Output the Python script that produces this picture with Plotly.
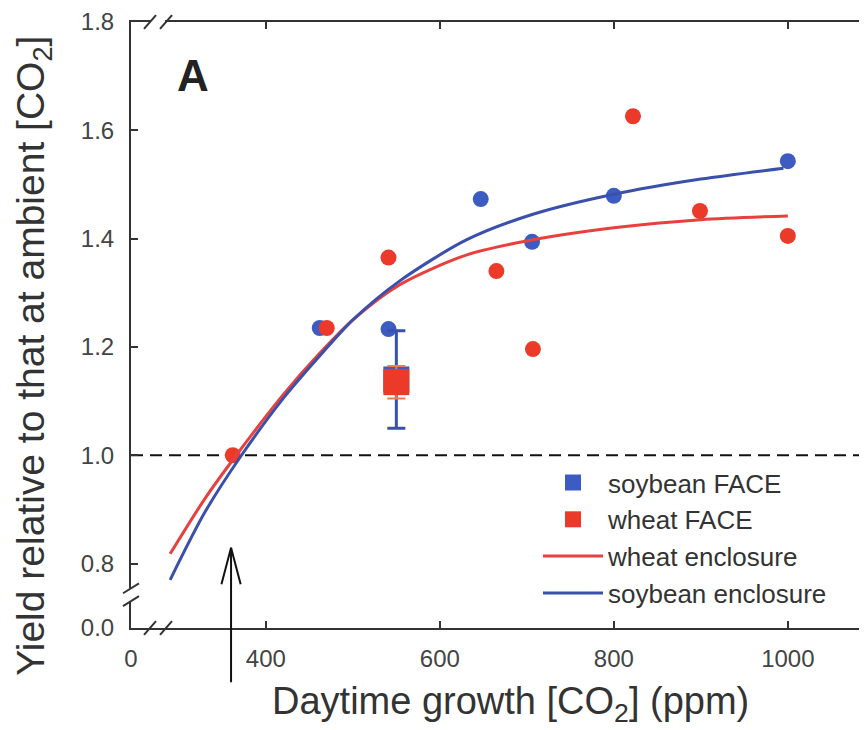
import plotly.graph_objects as go

# ---------------- data ----------------
# enclosure fits
soy_curve_x = [290, 330, 372, 420, 460, 500, 554, 631, 707, 800, 900, 995]
soy_curve_y = [0.770, 0.895, 1.000, 1.105, 1.180, 1.250, 1.322, 1.398, 1.445, 1.482, 1.510, 1.530]
wheat_curve_x = [290, 330, 366, 420, 460, 500, 554, 631, 707, 800, 900, 1000]
wheat_curve_y = [0.818, 0.920, 1.000, 1.112, 1.185, 1.250, 1.315, 1.370, 1.398, 1.420, 1.435, 1.442]

# enclosure observations
soy_x = [462, 541, 647, 706, 800, 1000]
soy_y = [1.235, 1.233, 1.473, 1.394, 1.479, 1.543]
wheat_x = [362, 470, 541, 665, 707, 822, 899, 1000]
wheat_y = [1.000, 1.235, 1.365, 1.340, 1.196, 1.626, 1.451, 1.405]
soy_open_x = [960]
soy_open_y = [1.039]

# FACE means
face_x = [550]
soy_face_y = [1.14]
soy_face_err = [0.09]
wheat_face_y = [1.135]
wheat_face_err = [0.03]

ambient_co2 = 360
reference_ratio = 1.0

x_axis_floor = 245      # shown as "0" (broken axis)
x_axis_ceiling = 1091
y_axis_floor = 0.681    # shown as "0.0" (broken axis)
y_axis_ceiling = 1.8
x_tick_vals = [x_axis_floor, 400, 600, 800, 1000]
x_tick_text = ["0", "400", "600", "800", "1000"]
y_tick_vals = [y_axis_floor, 0.8, 1.0, 1.2, 1.4, 1.6, 1.8]
y_tick_text = ["0.0", "0.8", "1.0", "1.2", "1.4", "1.6", "1.8"]

# ---------------- style ----------------
BLUE = "#3d5cc2"
RED = "#ec3a2a"
BLUE_LINE = "#3a50aa"
RED_LINE = "#e8403e"
INK = "#333333"
FONT = "Liberation Sans, Arial, sans-serif"

OFF = 8                       # page body margin
W, H = 859, 722
PL, PT, PB = 131, 18, 628     # plot edges in page pixels
ML, MT = PL - OFF, PT - OFF
MB = H - (PB - OFF)
MR = 0
PW, PH = W - ML - MR, H - MT - MB


def px(x):
    return (x - PL) / PW


def py(y):
    return (PB - y) / PH


fig = go.Figure()

fig.add_trace(go.Scatter(x=soy_x, y=soy_y, mode="markers", showlegend=False,
                         marker=dict(color=BLUE, size=16, line=dict(width=0))))
fig.add_trace(go.Scatter(x=soy_open_x, y=soy_open_y, mode="markers", showlegend=False,
                         marker=dict(color="white", size=13, symbol="circle-open",
                                     line=dict(color="#5a6aa8", width=2))))
fig.add_trace(go.Scatter(x=wheat_x, y=wheat_y, mode="markers", showlegend=False,
                         marker=dict(color=RED, size=16, line=dict(width=0))))

fig.add_trace(go.Scatter(x=face_x, y=soy_face_y, mode="markers", name="soybean FACE",
                         marker=dict(color=BLUE, size=26, symbol="square", line=dict(width=0)),
                         error_y=dict(type="data", array=soy_face_err, color=BLUE_LINE,
                                      thickness=3, width=9)))
fig.add_trace(go.Scatter(x=face_x, y=wheat_face_y, mode="markers", name="wheat FACE",
                         marker=dict(color=RED, size=26, symbol="square", line=dict(width=0)),
                         error_y=dict(type="data", array=wheat_face_err, color="#f07a50",
                                      thickness=2, width=9)))

fig.add_trace(go.Scatter(x=wheat_curve_x, y=wheat_curve_y, mode="lines", name="wheat enclosure",
                         line=dict(color=RED_LINE, width=3, shape="spline", smoothing=0.8)))
fig.add_trace(go.Scatter(x=soy_curve_x, y=soy_curve_y, mode="lines", name="soybean enclosure",
                         line=dict(color=BLUE_LINE, width=3, shape="spline", smoothing=0.8)))

fig.add_hline(y=reference_ratio, layer="below",
              line=dict(color="#111111", width=2, dash="12px,7px"))

# broken-axis decorations
shapes = []
shapes.append(dict(type="rect", xref="paper", yref="paper", layer="above",
                   x0=px(151), x1=px(165), y0=py(633), y1=py(623),
                   fillcolor="white", line=dict(width=0)))
shapes.append(dict(type="rect", xref="paper", yref="paper", layer="above",
                   x0=px(151), x1=px(165), y0=py(23), y1=py(13),
                   fillcolor="white", line=dict(width=0)))
shapes.append(dict(type="rect", xref="paper", yref="paper", layer="above",
                   x0=px(126), x1=px(136), y0=py(601), y1=py(588),
                   fillcolor="white", line=dict(width=0)))
for cx in (150, 166):
    for cy in (628, 18):
        shapes.append(dict(type="line", xref="paper", yref="paper", layer="above",
                           x0=px(cx - 6), y0=py(cy + 7), x1=px(cx + 6), y1=py(cy - 7),
                           line=dict(color=INK, width=2)))
for cy in (588, 601):
    shapes.append(dict(type="line", xref="paper", yref="paper", layer="above",
                       x0=px(123), y0=py(cy + 5), x1=px(139), y1=py(cy - 5),
                       line=dict(color=INK, width=2)))

annotations = [
    dict(text="<b>A</b>", xref="paper", yref="paper", x=px(193), y=py(72),
         xanchor="center", yanchor="middle", showarrow=False,
         font=dict(family=FONT, size=44, color="#222222")),
    dict(text="Yield relative to that at ambient [CO<sub>2</sub>]", xref="paper", yref="paper",
         x=px(34), y=py(354), xanchor="center", yanchor="middle", textangle=-90,
         showarrow=False, font=dict(family=FONT, size=39, color=INK)),
    dict(text="Daytime growth [CO<sub>2</sub>] (ppm)", xref="paper", yref="paper",
         x=px(510), y=py(704), xanchor="center", yanchor="middle", showarrow=False,
         font=dict(family=FONT, size=38, color=INK)),
]
# arrow marking ambient CO2
for ax, ay in ((0, 136), (-10, 38), (10, 38)):
    annotations.append(dict(text="", x=ambient_co2, y=0.829, xref="x", yref="y",
                            ax=ax, ay=ay, showarrow=True, arrowhead=0, arrowwidth=2,
                            arrowcolor="#111111", standoff=0))

fig.update_layout(
    width=W, height=H,
    margin=dict(l=ML, r=MR, t=MT, b=MB, pad=0),
    paper_bgcolor="white", plot_bgcolor="white",
    font=dict(family=FONT, color=INK),
    shapes=shapes, annotations=annotations,
    legend=dict(x=px(538), y=py(458), xanchor="left", yanchor="top",
                bgcolor="rgba(0,0,0,0)", font=dict(family=FONT, size=26, color=INK),
                itemwidth=60, tracegroupgap=0),
)
fig.update_xaxes(range=[x_axis_floor, x_axis_ceiling], tickvals=x_tick_vals, ticktext=x_tick_text,
                 showgrid=False, zeroline=False, showline=True, linecolor=INK, linewidth=2,
                 mirror="ticks", ticks="inside", ticklen=7, tickwidth=1.5, tickcolor=INK,
                 tickfont=dict(family=FONT, size=24, color="#444444"), ticklabelstandoff=8,
                 ticklabeloverflow="allow")
fig.update_yaxes(range=[y_axis_floor, y_axis_ceiling], tickvals=y_tick_vals, ticktext=y_tick_text,
                 showgrid=False, zeroline=False, showline=True, linecolor=INK, linewidth=2,
                 ticks="inside", ticklen=7, tickwidth=1.5, tickcolor=INK,
                 tickfont=dict(family=FONT, size=24, color="#444444"), ticklabelstandoff=10,
                 ticklabeloverflow="allow")

fig.write_html("out.html")
